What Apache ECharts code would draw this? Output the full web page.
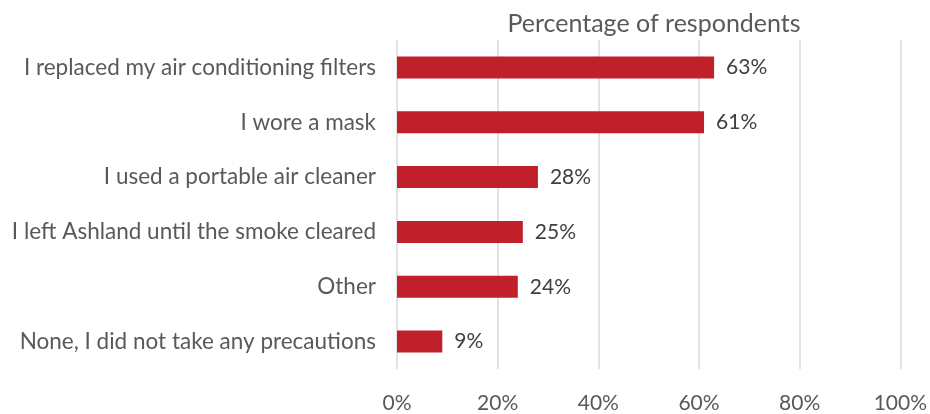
<!DOCTYPE html>
<html><head><meta charset="utf-8">
<script src="https://cdn.jsdelivr.net/npm/echarts@6/dist/echarts.min.js"></script>
<style>html,body{margin:0;padding:0;background:#fff}#c{width:930px;height:414px}</style>
</head><body><div id="c"></div>
<script>
const categories = ["I replaced my air conditioning filters","I wore a mask","I used a portable air cleaner","I left Ashland until the smoke cleared","Other","None, I did not take any precautions"];
const values = [63, 61, 28, 25, 24, 9];
const xTicks = [0, 20, 40, 60, 80, 100];
const titleText = "Percentage of respondents";

const chart = echarts.init(document.getElementById('c'));
const font = "Lato, 'Open Sans', sans-serif";
chart.setOption({
  animation: false,
  title: { text: titleText, left: 649, top: 6, textAlign: 'center',
    textStyle: { fontFamily: font, fontSize: 25, fontWeight: 'normal', color: '#595959' } },
  grid: { left: 397, right: 29, top: 40, bottom: 42, containLabel: false },
  xAxis: { type: 'value', min: xTicks[0], max: xTicks[xTicks.length-1], interval: 20,
    axisLine: { show: false }, axisTick: { show: false },
    splitLine: { lineStyle: { color: '#d9d9d9', width: 1.5 } },
    axisLabel: { formatter: '{value}%', fontFamily: font, fontSize: 21, color: '#595959', margin: 24 } },
  yAxis: { type: 'category', data: categories.slice().reverse(),
    axisLine: { show: false }, axisTick: { show: false },
    axisLabel: { fontFamily: font, fontSize: 22.5, color: '#595959', margin: 21 } },
  series: [{ type: 'bar', data: values.slice().reverse(), barCategoryGap: '60%',
    itemStyle: { color: '#C0202A' },
    label: { show: true, position: 'right', distance: 12, formatter: '{c}%', fontFamily: font, fontSize: 21, color: '#404040' } }]
});
</script></body></html>
